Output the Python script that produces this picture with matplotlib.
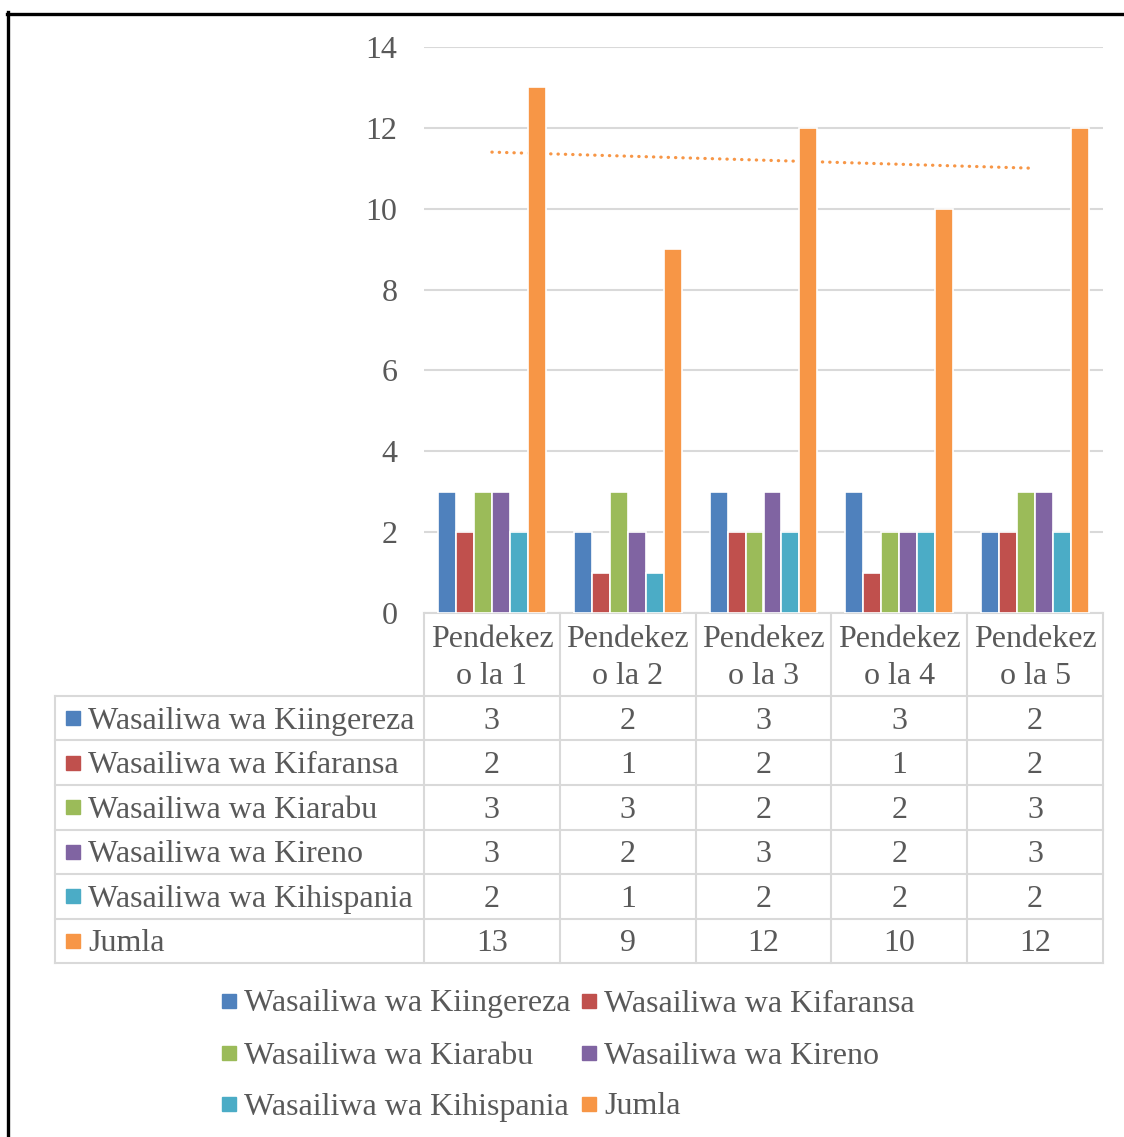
import numpy as np
import matplotlib.pyplot as plt
from matplotlib.lines import Line2D
from matplotlib.patches import Rectangle

plt.rcParams['font.family'] = ['Liberation Serif', 'DejaVu Serif']

categories = ['Pendekezo la 1', 'Pendekezo la 2', 'Pendekezo la 3', 'Pendekezo la 4', 'Pendekezo la 5']
series_names = ['Wasailiwa wa Kiingereza', 'Wasailiwa wa Kifaransa', 'Wasailiwa wa Kiarabu',
                'Wasailiwa wa Kireno', 'Wasailiwa wa Kihispania', 'Jumla']
kiingereza = [3, 2, 3, 3, 2]
kifaransa = [2, 1, 2, 1, 2]
kiarabu = [3, 3, 2, 2, 3]
kireno = [3, 2, 3, 2, 3]
kihispania = [2, 1, 2, 2, 2]
jumla = [13, 9, 12, 10, 12]
y_ticks = [0, 2, 4, 6, 8, 10, 12, 14]

colors = ['#4F81BD', '#C0504D', '#9BBB59', '#8064A2', '#4BACC6', '#F79646']
txt_color = '#595959'
grid_color = '#D9D9D9'
fs = 23

W, H = 1124, 1137
fig = plt.figure(figsize=(W / 100, H / 100), dpi=100)


def fx(x):
    return x / W


def fy(y):
    return 1 - y / H


# main plot area
ax = fig.add_axes([fx(424), fy(613), (1103 - 424) / W, (613 - 47) / H])
ax.set_xlim(-0.5, 4.5)
ax.set_ylim(0, 14)
ax.set_yticks(y_ticks)
ax.set_yticklabels([str(t) for t in y_ticks], fontsize=fs, color=txt_color)
ax.set_xticks([])
ax.tick_params(axis='y', length=0, pad=19)
for s in ['top', 'right', 'left']:
    ax.spines[s].set_visible(False)
ax.spines['bottom'].set_color(grid_color)
ax.spines['bottom'].set_linewidth(1.5)
ax.yaxis.grid(True, color=grid_color, linewidth=1.5)
ax.set_axisbelow(True)

all_series = [kiingereza, kifaransa, kiarabu, kireno, kihispania, jumla]
x = np.arange(len(categories))
slot = 0.1325
for i, vals in enumerate(all_series):
    ax.bar(x + (i - 2.5) * slot, vals, width=slot, color=colors[i],
           edgecolor='white', linewidth=1.2, zorder=3)

# linear trendline on Jumla
k, b = np.polyfit(x, jumla, 1)
ax.plot(x[[0, -1]], k * x[[0, -1]] + b, color=colors[5], linestyle=(0, (0.1, 2.2)),
        linewidth=2.3, dash_capstyle='round', zorder=2)

# data table
col_w = (1103 - 424) / 5
x0 = -0.5 - (424 - 55) / col_w
tab = fig.add_axes([fx(55), fy(963), (1103 - 55) / W, (963 - 613) / H])
tab.set_xlim(x0, 4.5)
tab.set_ylim(350, 0)
tab.axis('off')
hdr = 83
rh = 44.5
lw = 1.5
for c in range(6):
    tab.plot([c - 0.5, c - 0.5], [0, 350], color=grid_color, lw=lw, clip_on=False)
tab.plot([x0, x0], [hdr, 350], color=grid_color, lw=lw, clip_on=False)
for r in range(7):
    yy = hdr + r * rh
    tab.plot([x0, 4.5], [yy, yy], color=grid_color, lw=lw, clip_on=False)

for c, cat in enumerate(categories):
    tab.text(c, 24 + 10.5, cat[:8], ha='center', va='baseline', fontsize=fs, color=txt_color)
    tab.text(c, 61 + 10.5, cat[8:], ha='center', va='baseline', fontsize=fs, color=txt_color)

for r, (name, vals) in enumerate(zip(series_names, all_series)):
    yc = hdr + (r + 0.5) * rh
    tab.add_patch(Rectangle((x0 + 11 / col_w, yc - 7), 14 / col_w, 14,
                            color=colors[r], clip_on=False))
    tab.text(x0 + 33 / col_w, yc + 10.5, name, ha='left', va='baseline',
             fontsize=fs, color=txt_color)
    for c, v in enumerate(vals):
        tab.text(c, yc + 10.5, str(v), ha='center', va='baseline', fontsize=fs, color=txt_color)

# legend below
leg_rows = [1001, 1053, 1104]
leg_cols = [222, 582]
for i, name in enumerate(series_names):
    r, c = divmod(i, 2)
    mx, my = leg_cols[c], leg_rows[r]
    fig.add_artist(Rectangle((fx(mx), fy(my + 7)), 14 / W, 14 / H, color=colors[i],
                             transform=fig.transFigure))
    fig.text(fx(mx + 22), fy(my + 10.5), name, ha='left', va='baseline',
             fontsize=fs, color=txt_color)

# outer frame (left and top)
fig.add_artist(Line2D([fx(8), fx(8)], [fy(12), 0], color='black', lw=2.4,
                      transform=fig.transFigure))
fig.add_artist(Line2D([fx(7), 1], [fy(13.5), fy(13.5)], color='black', lw=2.4,
                      transform=fig.transFigure))

fig.savefig('out.png', dpi=100, facecolor='white')
